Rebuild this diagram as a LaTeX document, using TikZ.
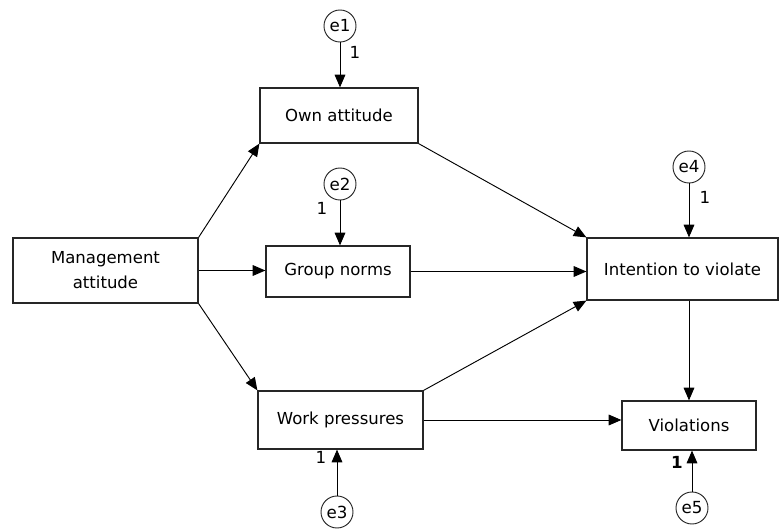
\documentclass[tikz,border=0pt]{standalone}
\usepackage{fontspec}
\setmainfont{DejaVu Sans}
\usetikzlibrary{arrows.meta}
\tikzset{
	var/.style={draw=black!85, line width=0.9pt, inner sep=0pt, align=center, font=\fontsize{12.4}{18.75}\selectfont},
	err/.style={draw=black!85, circle, line width=0.7pt, minimum size=24pt, inner sep=0pt, font=\fontsize{12.5}{14}\selectfont},
	arr/.style={line width=0.7pt, -{Triangle[length=9.5pt,width=8pt]}},
	one/.style={font=\fontsize{12.5}{14}\selectfont}
}

\begin{document}
\begin{tikzpicture}[x=0.75pt, y=-0.75pt]
			\fill[white] (0,0) rectangle (779,531);
			% observed variables
			\node[var, minimum width=138.75pt, minimum height=48.75pt] (mgmt) at (105.5,270.5) {Management\\attitude};
			\node[var, minimum width=118.5pt, minimum height=41.25pt] (own) at (339,115.5) {Own attitude};
			\node[var, minimum width=108pt, minimum height=38.25pt] (group) at (338,271.5) {Group norms};
			\node[var, minimum width=123.75pt, minimum height=43.5pt] (work) at (340.5,420) {Work pressures};
			\node[var, minimum width=143.25pt, minimum height=46.5pt] (intent) at (682.5,269) {Intention to violate};
			\node[var, minimum width=100.5pt, minimum height=36.75pt] (viol) at (689,425.5) {Violations};
			% error terms
			\node[err] (e1) at (340,26) {e1};
			\node[err] (e2) at (340,184) {e2};
			\node[err] (e3) at (337,512) {e3};
			\node[err] (e4) at (689,167) {e4};
			\node[err] (e5) at (692,508) {e5};
			\node[one] (w1) at (355,52) {1};
			\node[one] (w2) at (322,208) {1};
			\node[one] (w3) at (321,457) {1};
			\node[one] (w4) at (705,197) {1};
			\node[one, font=\fontsize{12.5}{14}\selectfont\bfseries] (w5) at (677,462) {1};
			% paths
			\draw[arr] (mgmt.north east) -- (own.south west);
			\draw[arr] (mgmt.east) -- (mgmt.east -| group.west);
			\draw[arr] (mgmt.south east) -- (work.north west);
			\draw[arr] (own.south east) -- (intent.north west);
			\draw[arr] (group.east) -- (group.east -| intent.west);
			\draw[arr] (work.north east) -- (intent.south west);
			\draw[arr] (work.east) -- (work.east -| viol.west);
			\draw[arr] (viol.north |- intent.south) -- (viol.north);
			\foreach \e/\v in {e1/own,e2/group,e4/intent} {
				\draw[arr] (\e) -- (\e |- \v.north);
			}
			\foreach \e/\v in {e3/work,e5/viol} {
				\draw[arr] (\e) -- (\e |- \v.south);
			}
		\end{tikzpicture}
\end{document}
